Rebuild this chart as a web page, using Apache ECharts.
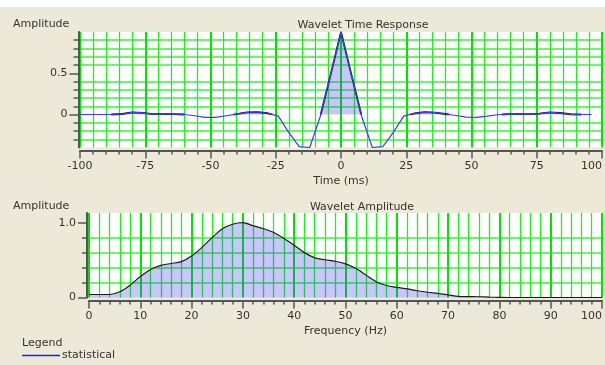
<!DOCTYPE html>
<html>
<head>
<meta charset="utf-8">
<script src="https://cdn.jsdelivr.net/npm/echarts@6/dist/echarts.min.js"></script>
<style>
  html, body { margin: 0; padding: 0; background: #ECE9D8; overflow: hidden; }
  #strip { position: absolute; left: 0; top: 0; width: 605px; height: 7px; background: #ffffff; }
  #chart { position: absolute; left: 0; top: 0; width: 605px; height: 365px; }
</style>
</head>
<body>
<div id="strip"></div>
<div id="chart"></div>
<script>
// Wavelet time response: time in ms, amplitude normalised
const timeMs = [-100, -96, -92, -88, -84, -80, -76, -72, -68, -64, -60, -56, -52, -48, -44, -40, -36, -32, -28, -24,
  -20, -16, -12, -8, -4, 0, 4, 8, 12, 16, 20, 24, 28, 32, 36, 40, 44, 48, 52, 56, 60, 64, 68, 72, 76, 80, 84, 88, 92, 96];
const timeAmp = [0, 0, 0, 0, 0.006, 0.025, 0.02, 0.005, 0.004, 0.004, 0, -0.015, -0.035, -0.035, -0.015, 0.005, 0.025, 0.03, 0.015, -0.02,
  -0.22, -0.39, -0.4, -0.03, 0.48, 1.0, 0.48, -0.03, -0.4, -0.39, -0.22, -0.02, 0.012, 0.028, 0.022, 0.006, -0.012, -0.032, -0.035, -0.02,
  -0.003, 0.004, 0.004, 0.004, 0.01, 0.025, 0.018, 0.003, 0, 0];

// Wavelet amplitude spectrum: frequency in Hz
const freqHz = [0, 2, 4, 6, 8, 10, 12, 14, 16, 18, 20, 22, 24, 26, 28, 30, 32, 34, 36, 38, 40, 42, 44, 46, 48, 50,
  52, 54, 56, 58, 60, 62, 64, 66, 68, 70, 72, 74, 76, 78, 80, 82, 84, 86, 88, 90, 92, 94, 96, 98, 100];
const freqAmp = [0.04, 0.04, 0.04, 0.076, 0.165, 0.28, 0.375, 0.43, 0.455, 0.48, 0.555, 0.67, 0.8, 0.92, 0.98, 1.0, 0.96, 0.92, 0.87, 0.79, 0.7,
  0.6, 0.53, 0.505, 0.485, 0.45, 0.39, 0.3, 0.21, 0.16, 0.135, 0.115, 0.09, 0.07, 0.055, 0.035, 0.015, 0.012, 0.01, 0.005, 0.002,
  0, 0, 0, 0, 0, 0, 0, 0, 0, 0];

// Labelled and plain ticks on each amplitude axis
const timeAmpLabels = [0, 0.5];
const freqAmpLabels = [0, 1.0];
const timeAmpMinor = [-0.3, -0.2, -0.1, 0.1, 0.2, 0.3, 0.4, 0.6, 0.7, 0.8, 0.9];
const freqAmpMinor = [0.2, 0.4, 0.6, 0.8];

const legendName = 'statistical';

// Positive lobes only, split at interpolated zero crossings
function positiveLobes(xs, ys) {
  const out = [];
  for (let i = 0; i < xs.length; i++) {
    const y = ys[i];
    if (i > 0) {
      const yp = ys[i - 1];
      if ((yp > 0) !== (y > 0) && yp !== y) {
        const xc = xs[i - 1] + (0 - yp) / (y - yp) * (xs[i] - xs[i - 1]);
        out.push([xc, 0]);
        if (y <= 0) out.push(null);
      }
    }
    if (y > 0) out.push([xs[i], y]);
  }
  return out;
}

const txt = '#333333';
const font = 'DejaVu Sans';
const fs = 11;
const axisGrey = '#555555';
const fill = 'rgba(70,70,237,0.43)';

const chart = echarts.init(document.getElementById('chart'), null, { renderer: 'canvas' });

function fmtLabel(list, digits) {
  return function (v) {
    for (const l of list) if (Math.abs(v - l) < 1e-6) return l === 0 ? '0' : l.toFixed(digits);
    return '';
  };
}

const plainText = { fontSize: fs, fontWeight: 'normal', color: txt, fontFamily: font };

function xAxisCfg(gridIndex, min, max, interval, name) {
  return {
    gridIndex, type: 'value', min, max, interval, offset: 3, position: 'bottom',
    name, nameLocation: 'middle', nameGap: 25,
    nameTextStyle: { fontSize: fs, color: txt, fontFamily: font },
    axisLine: { onZero: false, lineStyle: { color: axisGrey, width: 2 } },
    axisTick: { length: 8, lineStyle: { color: axisGrey, width: 1.5 } },
    minorTick: { show: true, splitNumber: 5, length: 4, lineStyle: { color: axisGrey, width: 1.5 } },
    axisLabel: { fontSize: fs, color: txt, margin: 10, fontFamily: font, alignMaxLabel: 'right' },
    splitLine: { show: true, lineStyle: { color: '#00e400', width: 2 } },
    minorSplitLine: { show: true, lineStyle: { color: '#1fef1f', width: 1.3 } }
  };
}

function yAxisPair(gridIndex, min, max, interval, offset, plainTicks, labelTicks) {
  return [
    {
      gridIndex, type: 'value', min, max, interval, offset, position: 'left',
      axisLine: { show: true, onZero: false, lineStyle: { color: axisGrey, width: 2 } },
      axisTick: { show: true, length: 5, customValues: plainTicks, lineStyle: { color: axisGrey, width: 1.5 } },
      axisLabel: { show: false },
      splitLine: { show: true, lineStyle: { color: '#3ef03e', width: 1.5 } }
    },
    {
      gridIndex, type: 'value', min, max, interval, offset, position: 'left',
      axisLine: { show: false, onZero: false },
      axisTick: { show: true, length: 9, customValues: labelTicks, lineStyle: { color: axisGrey, width: 1.5 } },
      axisLabel: { fontSize: fs, color: txt, margin: 11, fontFamily: font, customValues: labelTicks, formatter: fmtLabel(labelTicks, 1) },
      splitLine: { show: false }
    }
  ];
}

const option = {
  animation: false,
  backgroundColor: 'transparent',
  textStyle: { fontFamily: font, color: txt },
  title: [
    { text: 'Wavelet Time Response', left: 358, top: 15, textAlign: 'center', textStyle: plainText },
    { text: 'Wavelet Amplitude', left: 357, top: 197, textAlign: 'center', textStyle: plainText },
    { text: 'Amplitude', left: 13, top: 19, padding: 0, textStyle: plainText },
    { text: 'Amplitude', left: 13, top: 201, padding: 0, textStyle: plainText },
    { text: 'Legend', left: 22, top: 338, padding: 0, textStyle: plainText }
  ],
  legend: {
    left: 22, top: 350, padding: 0, itemGap: 0,
    data: [legendName],
    icon: 'rect', itemWidth: 38, itemHeight: 1.5,
    textStyle: { fontSize: fs, color: txt, fontFamily: font, padding: [0, 0, 0, -3] }
  },
  grid: [
    { left: 80, top: 32, width: 522, height: 115.5, show: true, backgroundColor: '#ffffff', borderWidth: 0, outerBoundsMode: 'none', containLabel: false },
    { left: 89, top: 213, width: 513, height: 84.5, show: true, backgroundColor: '#ffffff', borderWidth: 0, outerBoundsMode: 'none', containLabel: false }
  ],
  xAxis: [
    xAxisCfg(0, -100, 100, 25, 'Time (ms)'),
    xAxisCfg(1, 0, 100, 10, 'Frequency (Hz)')
  ],
  yAxis: [].concat(
    yAxisPair(0, -0.4, 1.0, 0.1, 1.5, timeAmpMinor, timeAmpLabels),
    yAxisPair(1, 0, 1.13, 0.2, 2, freqAmpMinor, freqAmpLabels)
  ),
  series: [
    {
      name: 'positive', type: 'line', xAxisIndex: 0, yAxisIndex: 0,
      data: positiveLobes(timeMs, timeAmp), connectNulls: false,
      showSymbol: false, symbol: 'none',
      lineStyle: { color: '#1a1a1a', width: 1.8 },
      areaStyle: { color: fill, origin: 0 },
      z: 3
    },
    {
      name: legendName, type: 'line', xAxisIndex: 0, yAxisIndex: 0,
      data: timeMs.map((t, i) => [t, timeAmp[i]]),
      showSymbol: false, symbol: 'none',
      lineStyle: { color: '#3a3aff', width: 1.2 },
      itemStyle: { color: '#2020e8' },
      z: 4
    },
    {
      name: 'spectrum', type: 'line', xAxisIndex: 1, yAxisIndex: 2,
      data: freqHz.map((f, i) => [f, freqAmp[i]]),
      showSymbol: false, symbol: 'none', smooth: 0.3,
      lineStyle: { color: '#1a1a1a', width: 1.2 },
      areaStyle: { color: fill, origin: 0 },
      z: 3
    }
  ]
};

chart.setOption(option);
</script>
</body>
</html>
